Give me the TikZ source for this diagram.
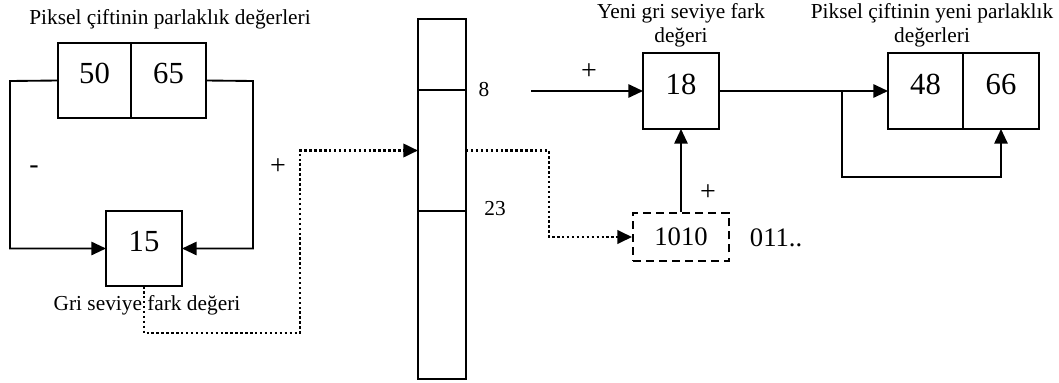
\documentclass[tikz,border=0pt]{standalone}
\usepackage{fontspec}
\setmainfont{Liberation Serif}
\usetikzlibrary{arrows.meta,positioning}

\begin{document}
\begin{tikzpicture}[x=0.75pt, y=-0.75pt, line width=1.4pt, >={Triangle[length=11pt,width=10pt]},
    cell/.style={draw, inner sep=0pt, outer sep=0pt, minimum height=56.5pt,
                 font=\fontsize{23}{27}\selectfont, text depth=10.5pt},
    lbl/.style={font=\fontsize{16}{18}\selectfont, inner sep=0pt, align=center},
    sign/.style={font=\fontsize{21}{23}\selectfont, inner sep=0pt},
    slot/.style={draw, inner sep=0pt, outer sep=0pt, minimum width=36pt},
    dotline/.style={dash pattern=on 1.8pt off 1.9pt, line width=2pt}]

    \useasboundingbox (0,0) rectangle (1059,382);

    % ==========================================
    % 1. Coppia di pixel e differenza
    % ==========================================
    \node[lbl] (titleOld) at (170,19) {Piksel çiftinin parlaklık değerleri};
    \node[cell, minimum width=54.75pt] (p50) at (94.5,80.5) {50};
    \node[cell, minimum width=56.25pt] (p65) at (168.5,80.5) {65};

    \node[cell, minimum width=57pt] (d15) at (144,248.5) {15};
    \node[lbl] (diffLbl) at (147,305) {Gri seviye fark değeri};

    \coordinate (lw) at (10,81);
    \coordinate (rw) at (253,81);
    \draw[->] (p50.west) -- (lw) |- (d15.west);
    \draw[->] (p65.east) -- (rw) |- (d15.east);
    \node[sign] (minus) at (34,170) {-};
    \node[sign] (plusR) at (278,167) {+};

    % ==========================================
    % 2. Tabella (colonna) e bit da inserire
    % ==========================================
    \node[slot, minimum height=53.25pt] (s1) at (442,54.5) {};
    \node[slot, minimum height=90.75pt] (s2) at (442,150.5) {};
    \node[slot, minimum height=126pt] (s3) at (442,295) {};
    \node[lbl] (k8) at (484,90) {8};
    \node[lbl] (k23) at (495,209) {23};

    \coordinate (b1) at (300,333);
    \draw[dotline, ->] (d15.south) |- (b1) |- (s2.west);

    \node[draw, dash pattern=on 6pt off 3.8pt, inner sep=0pt, minimum width=72pt, minimum height=36pt,
          font=\fontsize{20}{24}\selectfont] (bits) at (681,237) {1010};
    \node[font=\fontsize{20}{24}\selectfont, inner sep=0pt, anchor=west] (rest) at (749,238) {011..};

    \coordinate (b2) at (549,237);
    \draw[dotline, ->] (s2.east) -| (b2) -- (bits.west);

    % ==========================================
    % 3. Nuova differenza e nuovi valori
    % ==========================================
    \node[lbl] (titleDiff) at (681,25) {Yeni gri seviye fark\\değeri};
    \node[cell, minimum width=57pt, minimum height=57pt] (n18) at (681,91) {18};

    \coordinate (in8) at (531,91);
    \draw[->] (in8) -- (n18.west);
    \node[sign] (plusA) at (589,72) {+};
    \draw[->] (bits.north) -- (n18.south);
    \node[sign] (plusB) at (708,193) {+};

    \node[lbl] (titleNew) at (932,25) {Piksel çiftinin yeni parlaklık\\değerleri};
    \node[cell, minimum width=56.25pt, minimum height=57pt] (n48) at (925.5,91) {48};
    \node[cell, minimum width=57pt, minimum height=57pt] (n66) at (1001,91) {66};

    \coordinate (split) at (842,91);
    \draw[->] (n18.east) -- (n48.west);
    \draw[->] (split) -- ++(0,86) -| (n66.south);

\end{tikzpicture}
\end{document}
